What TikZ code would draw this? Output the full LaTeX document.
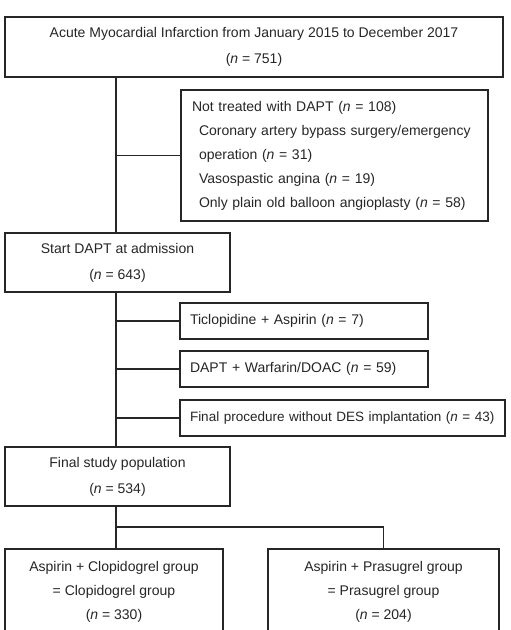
\documentclass[tikz,border=0pt]{standalone}
\usepackage{fontspec}
\setmainfont{Liberation Sans}
\newcommand{\nn}{\textit{n}}
\begin{document}
\begin{tikzpicture}[x=1pt,y=-1pt,
  box/.style={draw=black!85, line width=1.8pt, rectangle, inner sep=0pt, align=center, font=\fontsize{14}{26}\selectfont, text=black!85},
  conn/.style={draw=black!85, line width=1.8pt}]
\useasboundingbox (0,0) rectangle (511,630);
\clip (0,0) rectangle (511,630);
\fill[white] (0,0) rectangle (511,630);
\node[box, minimum width=498pt, minimum height=60pt] (top) at (254,47) {Acute Myocardial Infarction from January 2015 to December 2017\\(\nn{} = 751)};
\node[box, minimum width=307pt, minimum height=131pt, align=left, text width=285pt, font=\fontsize{14}{24}\selectfont] (excl) at (334.5,155.5) {Not treated with DAPT (\nn{} = 108)\\\hspace*{7pt}Coronary artery bypass surgery/emergency\\\hspace*{7pt}operation (\nn{} = 31)\\\hspace*{7pt}Vasospastic angina (\nn{} = 19)\\\hspace*{7pt}Only plain old balloon angioplasty (\nn{} = 58)};
\node[box, minimum width=225pt, minimum height=59pt] (start) at (117.5,262.5) {Start DAPT at admission\\(\nn{} = 643)};
\node[box, minimum width=248pt, minimum height=36pt, text width=228pt, align=left] (tic) at (304,321) {Ticlopidine + Aspirin (\nn{} = 7)};
\node[box, minimum width=248pt, minimum height=36pt, text width=228pt, align=left] (war) at (304,369) {DAPT + Warfarin/DOAC (\nn{} = 59)};
\node[box, minimum width=325pt, minimum height=36pt, text width=305pt, align=left, font=\fontsize{13.5}{24}\selectfont] (des) at (342.5,418) {\mbox{Final procedure without DES implantation (\nn{} = 43)}};
\node[box, minimum width=225pt, minimum height=59pt] (final) at (117.5,476.5) {Final study population\\(\nn{} = 534)};
\node[box, minimum width=218pt, minimum height=86pt, font=\fontsize{14}{24}\selectfont] (clop) at (114,592) {Aspirin + Clopidogrel group\\= Clopidogrel group\\(\nn{} = 330)};
\node[box, minimum width=231pt, minimum height=86pt, font=\fontsize{14}{24}\selectfont] (pras) at (383.5,592) {Aspirin + Prasugrel group\\= Prasugrel group\\(\nn{} = 204)};
\coordinate (t1) at (116,0);
\draw[conn] (top.south -| t1) -- (start.north -| t1);
\draw[conn] (excl.west -| t1) -- (excl.west);
\draw[conn] (start.south -| t1) -- (final.north -| t1);
\draw[conn] (tic.west -| t1) -- (tic.west);
\draw[conn] (war.west -| t1) -- (war.west);
\draw[conn] (des.west -| t1) -- (des.west);
\coordinate (split) at (116,527);
\draw[conn] (final.south -| t1) -- (clop.north -| t1);
\draw[conn] (split) -| (pras.north);
\end{tikzpicture}
\end{document}
